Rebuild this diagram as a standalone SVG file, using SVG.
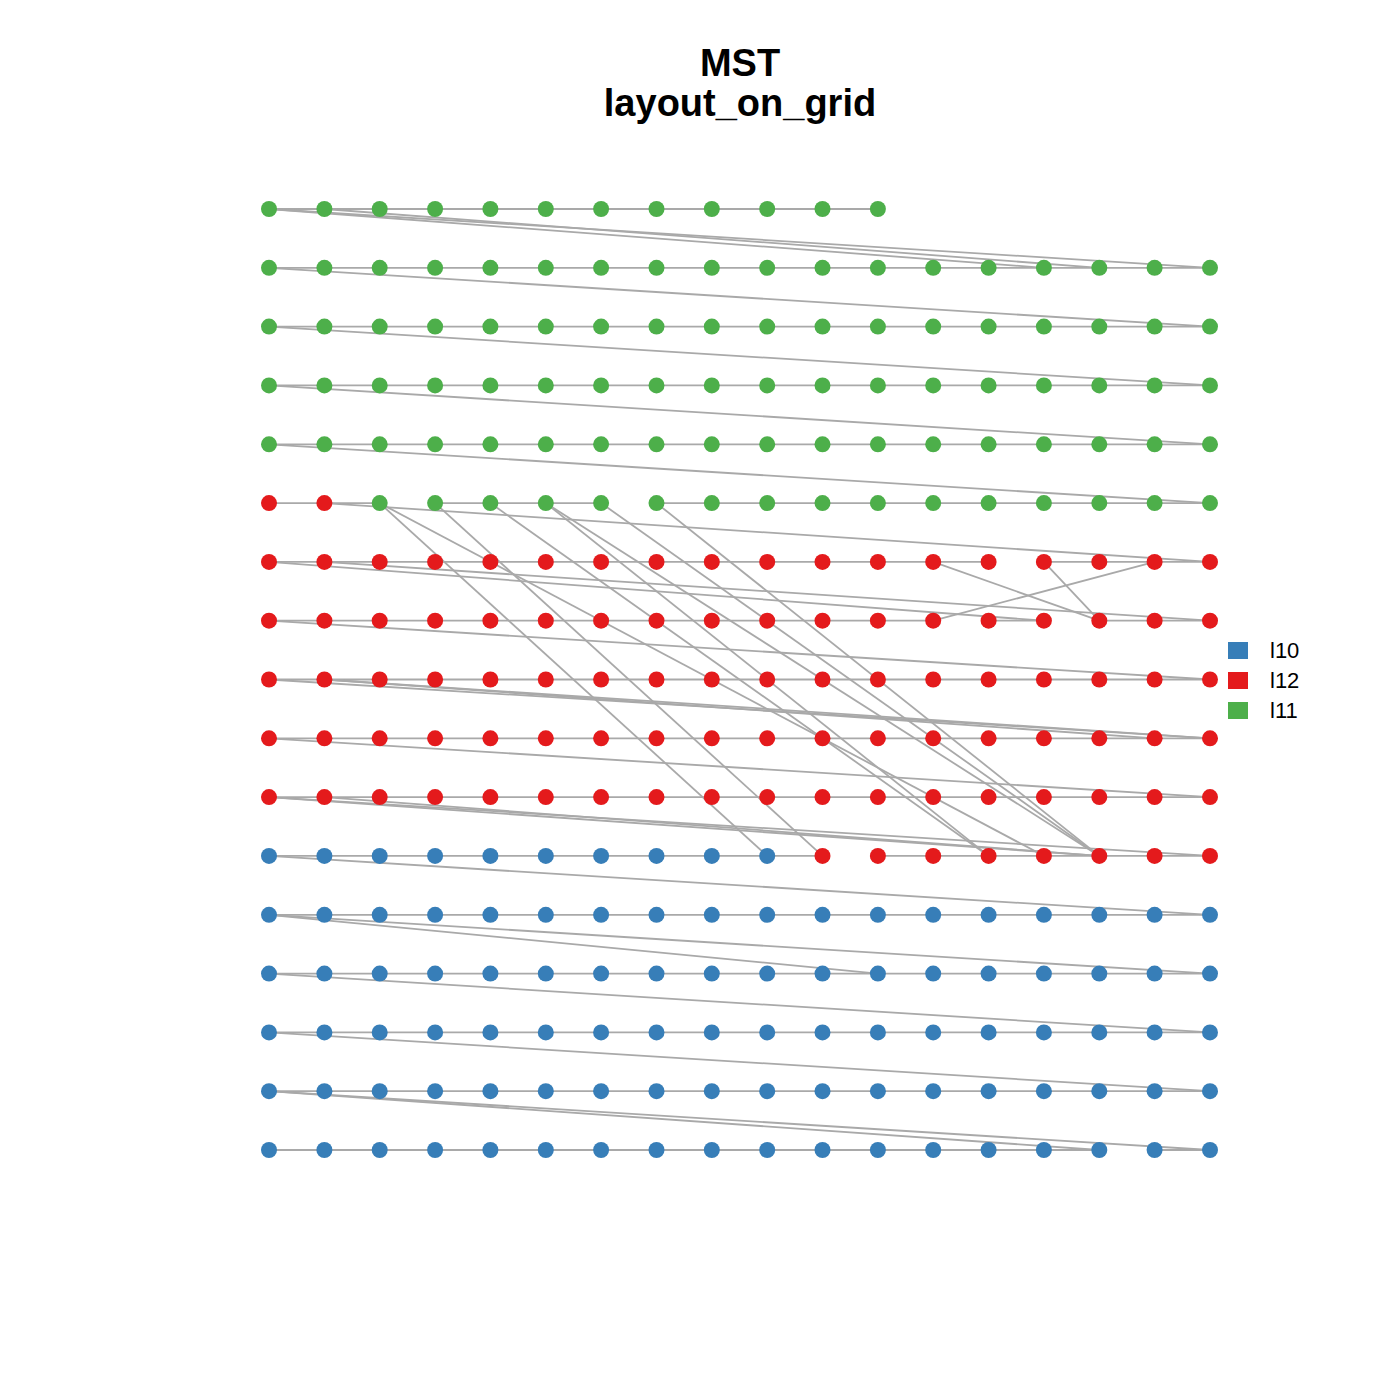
<svg xmlns="http://www.w3.org/2000/svg" width="1400" height="1400" viewBox="0 0 1400 1400">
<style>
.e{stroke:#a9a9a9;stroke-width:1.8;fill:none}
.g{fill:#4daf4a}.r{fill:#e41a1c}.b{fill:#377eb8}
.t{font-family:"Liberation Sans",Arial,sans-serif;font-weight:bold;font-size:38px;text-anchor:middle;fill:#000}
.l{font-family:"Liberation Sans",Arial,sans-serif;font-size:22px;fill:#000}
</style>
<rect width="1400" height="1400" fill="#fff"/>
<text class="t" x="740" y="76">MST</text>
<text class="t" x="740" y="116">layout_on_grid</text>
<g id="connectors" class="e">
<line x1="269" y1="209" x2="877.9" y2="209"/>
<line x1="269" y1="267.8" x2="1210" y2="267.8"/>
<line x1="269" y1="326.6" x2="1210" y2="326.6"/>
<line x1="269" y1="385.4" x2="1210" y2="385.4"/>
<line x1="269" y1="444.3" x2="1210" y2="444.3"/>
<line x1="269" y1="503.1" x2="379.7" y2="503.1"/>
<line x1="435.1" y1="503.1" x2="601.1" y2="503.1"/>
<line x1="656.5" y1="503.1" x2="1210" y2="503.1"/>
<line x1="269" y1="561.9" x2="988.6" y2="561.9"/>
<line x1="1043.9" y1="561.9" x2="1210" y2="561.9"/>
<line x1="269" y1="620.7" x2="933.2" y2="620.7"/>
<line x1="988.6" y1="620.7" x2="1043.9" y2="620.7"/>
<line x1="1099.3" y1="620.7" x2="1210" y2="620.7"/>
<line x1="269" y1="679.5" x2="1210" y2="679.5"/>
<line x1="269" y1="738.3" x2="1210" y2="738.3"/>
<line x1="269" y1="797.1" x2="1210" y2="797.1"/>
<line x1="269" y1="855.9" x2="822.5" y2="855.9"/>
<line x1="877.9" y1="855.9" x2="1210" y2="855.9"/>
<line x1="269" y1="914.8" x2="1210" y2="914.8"/>
<line x1="269" y1="973.6" x2="1210" y2="973.6"/>
<line x1="269" y1="1032.4" x2="1210" y2="1032.4"/>
<line x1="269" y1="1091.2" x2="1210" y2="1091.2"/>
<line x1="269" y1="1150" x2="1099.3" y2="1150"/>
<line x1="1154.6" y1="1150" x2="1210" y2="1150"/>
<line x1="269" y1="209" x2="1210" y2="267.8"/>
<line x1="324.4" y1="209" x2="1099.3" y2="267.8"/>
<line x1="269" y1="209" x2="1043.9" y2="267.8"/>
<line x1="269" y1="267.8" x2="1210" y2="326.6"/>
<line x1="269" y1="326.6" x2="1210" y2="385.4"/>
<line x1="269" y1="385.4" x2="1210" y2="444.3"/>
<line x1="269" y1="444.3" x2="1210" y2="503.1"/>
<line x1="324.4" y1="503.1" x2="1210" y2="561.9"/>
<line x1="324.4" y1="561.9" x2="1210" y2="620.7"/>
<line x1="269" y1="561.9" x2="1043.9" y2="620.7"/>
<line x1="269" y1="620.7" x2="1210" y2="679.5"/>
<line x1="269" y1="679.5" x2="1210" y2="738.3"/>
<line x1="324.4" y1="679.5" x2="1210" y2="738.3"/>
<line x1="324.4" y1="679.5" x2="1154.6" y2="738.3"/>
<line x1="269" y1="738.3" x2="1210" y2="797.1"/>
<line x1="269" y1="797.1" x2="1210" y2="855.9"/>
<line x1="269" y1="797.1" x2="1099.3" y2="855.9"/>
<line x1="324.4" y1="797.1" x2="1099.3" y2="855.9"/>
<line x1="269" y1="855.9" x2="1210" y2="914.8"/>
<line x1="269" y1="914.8" x2="1210" y2="973.6"/>
<line x1="269" y1="914.8" x2="877.9" y2="973.6"/>
<line x1="269" y1="973.6" x2="1210" y2="1032.4"/>
<line x1="269" y1="1032.4" x2="1210" y2="1091.2"/>
<line x1="269" y1="1091.2" x2="1210" y2="1150"/>
<line x1="269" y1="1091.2" x2="1099.3" y2="1150"/>
<line x1="379.7" y1="503.1" x2="767.2" y2="855.9"/>
<line x1="435.1" y1="503.1" x2="822.5" y2="855.9"/>
<line x1="379.7" y1="503.1" x2="1043.9" y2="855.9"/>
<line x1="490.4" y1="503.1" x2="988.6" y2="855.9"/>
<line x1="545.8" y1="503.1" x2="988.6" y2="855.9"/>
<line x1="545.8" y1="503.1" x2="1099.3" y2="855.9"/>
<line x1="601.1" y1="503.1" x2="1099.3" y2="855.9"/>
<line x1="656.5" y1="503.1" x2="1099.3" y2="855.9"/>
<line x1="933.2" y1="561.9" x2="1099.3" y2="620.7"/>
<line x1="1043.9" y1="561.9" x2="1099.3" y2="620.7"/>
<line x1="933.2" y1="620.7" x2="1154.6" y2="561.9"/>
</g>
<g id="nodes">
<g id="n289"><circle class="g" cx="269" cy="209" r="8"/></g>
<g id="n290"><circle class="g" cx="324.4" cy="209" r="8"/></g>
<g id="n291"><circle class="g" cx="379.7" cy="209" r="8"/></g>
<g id="n292"><circle class="g" cx="435.1" cy="209" r="8"/></g>
<g id="n293"><circle class="g" cx="490.4" cy="209" r="8"/></g>
<g id="n294"><circle class="g" cx="545.8" cy="209" r="8"/></g>
<g id="n295"><circle class="g" cx="601.1" cy="209" r="8"/></g>
<g id="n296"><circle class="g" cx="656.5" cy="209" r="8"/></g>
<g id="n297"><circle class="g" cx="711.8" cy="209" r="8"/></g>
<g id="n298"><circle class="g" cx="767.2" cy="209" r="8"/></g>
<g id="n299"><circle class="g" cx="822.5" cy="209" r="8"/></g>
<g id="n300"><circle class="g" cx="877.9" cy="209" r="8"/></g>
<g id="n271"><circle class="g" cx="269" cy="267.8" r="8"/></g>
<g id="n272"><circle class="g" cx="324.4" cy="267.8" r="8"/></g>
<g id="n273"><circle class="g" cx="379.7" cy="267.8" r="8"/></g>
<g id="n274"><circle class="g" cx="435.1" cy="267.8" r="8"/></g>
<g id="n275"><circle class="g" cx="490.4" cy="267.8" r="8"/></g>
<g id="n276"><circle class="g" cx="545.8" cy="267.8" r="8"/></g>
<g id="n277"><circle class="g" cx="601.1" cy="267.8" r="8"/></g>
<g id="n278"><circle class="g" cx="656.5" cy="267.8" r="8"/></g>
<g id="n279"><circle class="g" cx="711.8" cy="267.8" r="8"/></g>
<g id="n280"><circle class="g" cx="767.2" cy="267.8" r="8"/></g>
<g id="n281"><circle class="g" cx="822.5" cy="267.8" r="8"/></g>
<g id="n282"><circle class="g" cx="877.9" cy="267.8" r="8"/></g>
<g id="n283"><circle class="g" cx="933.2" cy="267.8" r="8"/></g>
<g id="n284"><circle class="g" cx="988.6" cy="267.8" r="8"/></g>
<g id="n285"><circle class="g" cx="1043.9" cy="267.8" r="8"/></g>
<g id="n286"><circle class="g" cx="1099.3" cy="267.8" r="8"/></g>
<g id="n287"><circle class="g" cx="1154.6" cy="267.8" r="8"/></g>
<g id="n288"><circle class="g" cx="1210" cy="267.8" r="8"/></g>
<g id="n253"><circle class="g" cx="269" cy="326.6" r="8"/></g>
<g id="n254"><circle class="g" cx="324.4" cy="326.6" r="8"/></g>
<g id="n255"><circle class="g" cx="379.7" cy="326.6" r="8"/></g>
<g id="n256"><circle class="g" cx="435.1" cy="326.6" r="8"/></g>
<g id="n257"><circle class="g" cx="490.4" cy="326.6" r="8"/></g>
<g id="n258"><circle class="g" cx="545.8" cy="326.6" r="8"/></g>
<g id="n259"><circle class="g" cx="601.1" cy="326.6" r="8"/></g>
<g id="n260"><circle class="g" cx="656.5" cy="326.6" r="8"/></g>
<g id="n261"><circle class="g" cx="711.8" cy="326.6" r="8"/></g>
<g id="n262"><circle class="g" cx="767.2" cy="326.6" r="8"/></g>
<g id="n263"><circle class="g" cx="822.5" cy="326.6" r="8"/></g>
<g id="n264"><circle class="g" cx="877.9" cy="326.6" r="8"/></g>
<g id="n265"><circle class="g" cx="933.2" cy="326.6" r="8"/></g>
<g id="n266"><circle class="g" cx="988.6" cy="326.6" r="8"/></g>
<g id="n267"><circle class="g" cx="1043.9" cy="326.6" r="8"/></g>
<g id="n268"><circle class="g" cx="1099.3" cy="326.6" r="8"/></g>
<g id="n269"><circle class="g" cx="1154.6" cy="326.6" r="8"/></g>
<g id="n270"><circle class="g" cx="1210" cy="326.6" r="8"/></g>
<g id="n235"><circle class="g" cx="269" cy="385.4" r="8"/></g>
<g id="n236"><circle class="g" cx="324.4" cy="385.4" r="8"/></g>
<g id="n237"><circle class="g" cx="379.7" cy="385.4" r="8"/></g>
<g id="n238"><circle class="g" cx="435.1" cy="385.4" r="8"/></g>
<g id="n239"><circle class="g" cx="490.4" cy="385.4" r="8"/></g>
<g id="n240"><circle class="g" cx="545.8" cy="385.4" r="8"/></g>
<g id="n241"><circle class="g" cx="601.1" cy="385.4" r="8"/></g>
<g id="n242"><circle class="g" cx="656.5" cy="385.4" r="8"/></g>
<g id="n243"><circle class="g" cx="711.8" cy="385.4" r="8"/></g>
<g id="n244"><circle class="g" cx="767.2" cy="385.4" r="8"/></g>
<g id="n245"><circle class="g" cx="822.5" cy="385.4" r="8"/></g>
<g id="n246"><circle class="g" cx="877.9" cy="385.4" r="8"/></g>
<g id="n247"><circle class="g" cx="933.2" cy="385.4" r="8"/></g>
<g id="n248"><circle class="g" cx="988.6" cy="385.4" r="8"/></g>
<g id="n249"><circle class="g" cx="1043.9" cy="385.4" r="8"/></g>
<g id="n250"><circle class="g" cx="1099.3" cy="385.4" r="8"/></g>
<g id="n251"><circle class="g" cx="1154.6" cy="385.4" r="8"/></g>
<g id="n252"><circle class="g" cx="1210" cy="385.4" r="8"/></g>
<g id="n217"><circle class="g" cx="269" cy="444.3" r="8"/></g>
<g id="n218"><circle class="g" cx="324.4" cy="444.3" r="8"/></g>
<g id="n219"><circle class="g" cx="379.7" cy="444.3" r="8"/></g>
<g id="n220"><circle class="g" cx="435.1" cy="444.3" r="8"/></g>
<g id="n221"><circle class="g" cx="490.4" cy="444.3" r="8"/></g>
<g id="n222"><circle class="g" cx="545.8" cy="444.3" r="8"/></g>
<g id="n223"><circle class="g" cx="601.1" cy="444.3" r="8"/></g>
<g id="n224"><circle class="g" cx="656.5" cy="444.3" r="8"/></g>
<g id="n225"><circle class="g" cx="711.8" cy="444.3" r="8"/></g>
<g id="n226"><circle class="g" cx="767.2" cy="444.3" r="8"/></g>
<g id="n227"><circle class="g" cx="822.5" cy="444.3" r="8"/></g>
<g id="n228"><circle class="g" cx="877.9" cy="444.3" r="8"/></g>
<g id="n229"><circle class="g" cx="933.2" cy="444.3" r="8"/></g>
<g id="n230"><circle class="g" cx="988.6" cy="444.3" r="8"/></g>
<g id="n231"><circle class="g" cx="1043.9" cy="444.3" r="8"/></g>
<g id="n232"><circle class="g" cx="1099.3" cy="444.3" r="8"/></g>
<g id="n233"><circle class="g" cx="1154.6" cy="444.3" r="8"/></g>
<g id="n234"><circle class="g" cx="1210" cy="444.3" r="8"/></g>
<g id="n199"><circle class="r" cx="269" cy="503.1" r="8"/></g>
<g id="n200"><circle class="r" cx="324.4" cy="503.1" r="8"/></g>
<g id="n201"><circle class="g" cx="379.7" cy="503.1" r="8"/></g>
<g id="n202"><circle class="g" cx="435.1" cy="503.1" r="8"/></g>
<g id="n203"><circle class="g" cx="490.4" cy="503.1" r="8"/></g>
<g id="n204"><circle class="g" cx="545.8" cy="503.1" r="8"/></g>
<g id="n205"><circle class="g" cx="601.1" cy="503.1" r="8"/></g>
<g id="n206"><circle class="g" cx="656.5" cy="503.1" r="8"/></g>
<g id="n207"><circle class="g" cx="711.8" cy="503.1" r="8"/></g>
<g id="n208"><circle class="g" cx="767.2" cy="503.1" r="8"/></g>
<g id="n209"><circle class="g" cx="822.5" cy="503.1" r="8"/></g>
<g id="n210"><circle class="g" cx="877.9" cy="503.1" r="8"/></g>
<g id="n211"><circle class="g" cx="933.2" cy="503.1" r="8"/></g>
<g id="n212"><circle class="g" cx="988.6" cy="503.1" r="8"/></g>
<g id="n213"><circle class="g" cx="1043.9" cy="503.1" r="8"/></g>
<g id="n214"><circle class="g" cx="1099.3" cy="503.1" r="8"/></g>
<g id="n215"><circle class="g" cx="1154.6" cy="503.1" r="8"/></g>
<g id="n216"><circle class="g" cx="1210" cy="503.1" r="8"/></g>
<g id="n181"><circle class="r" cx="269" cy="561.9" r="8"/></g>
<g id="n182"><circle class="r" cx="324.4" cy="561.9" r="8"/></g>
<g id="n183"><circle class="r" cx="379.7" cy="561.9" r="8"/></g>
<g id="n184"><circle class="r" cx="435.1" cy="561.9" r="8"/></g>
<g id="n185"><circle class="r" cx="490.4" cy="561.9" r="8"/></g>
<g id="n186"><circle class="r" cx="545.8" cy="561.9" r="8"/></g>
<g id="n187"><circle class="r" cx="601.1" cy="561.9" r="8"/></g>
<g id="n188"><circle class="r" cx="656.5" cy="561.9" r="8"/></g>
<g id="n189"><circle class="r" cx="711.8" cy="561.9" r="8"/></g>
<g id="n190"><circle class="r" cx="767.2" cy="561.9" r="8"/></g>
<g id="n191"><circle class="r" cx="822.5" cy="561.9" r="8"/></g>
<g id="n192"><circle class="r" cx="877.9" cy="561.9" r="8"/></g>
<g id="n193"><circle class="r" cx="933.2" cy="561.9" r="8"/></g>
<g id="n194"><circle class="r" cx="988.6" cy="561.9" r="8"/></g>
<g id="n195"><circle class="r" cx="1043.9" cy="561.9" r="8"/></g>
<g id="n196"><circle class="r" cx="1099.3" cy="561.9" r="8"/></g>
<g id="n197"><circle class="r" cx="1154.6" cy="561.9" r="8"/></g>
<g id="n198"><circle class="r" cx="1210" cy="561.9" r="8"/></g>
<g id="n163"><circle class="r" cx="269" cy="620.7" r="8"/></g>
<g id="n164"><circle class="r" cx="324.4" cy="620.7" r="8"/></g>
<g id="n165"><circle class="r" cx="379.7" cy="620.7" r="8"/></g>
<g id="n166"><circle class="r" cx="435.1" cy="620.7" r="8"/></g>
<g id="n167"><circle class="r" cx="490.4" cy="620.7" r="8"/></g>
<g id="n168"><circle class="r" cx="545.8" cy="620.7" r="8"/></g>
<g id="n169"><circle class="r" cx="601.1" cy="620.7" r="8"/></g>
<g id="n170"><circle class="r" cx="656.5" cy="620.7" r="8"/></g>
<g id="n171"><circle class="r" cx="711.8" cy="620.7" r="8"/></g>
<g id="n172"><circle class="r" cx="767.2" cy="620.7" r="8"/></g>
<g id="n173"><circle class="r" cx="822.5" cy="620.7" r="8"/></g>
<g id="n174"><circle class="r" cx="877.9" cy="620.7" r="8"/></g>
<g id="n175"><circle class="r" cx="933.2" cy="620.7" r="8"/></g>
<g id="n176"><circle class="r" cx="988.6" cy="620.7" r="8"/></g>
<g id="n177"><circle class="r" cx="1043.9" cy="620.7" r="8"/></g>
<g id="n178"><circle class="r" cx="1099.3" cy="620.7" r="8"/></g>
<g id="n179"><circle class="r" cx="1154.6" cy="620.7" r="8"/></g>
<g id="n180"><circle class="r" cx="1210" cy="620.7" r="8"/></g>
<g id="n145"><circle class="r" cx="269" cy="679.5" r="8"/></g>
<g id="n146"><circle class="r" cx="324.4" cy="679.5" r="8"/></g>
<g id="n147"><circle class="r" cx="379.7" cy="679.5" r="8"/></g>
<g id="n148"><circle class="r" cx="435.1" cy="679.5" r="8"/></g>
<g id="n149"><circle class="r" cx="490.4" cy="679.5" r="8"/></g>
<g id="n150"><circle class="r" cx="545.8" cy="679.5" r="8"/></g>
<g id="n151"><circle class="r" cx="601.1" cy="679.5" r="8"/></g>
<g id="n152"><circle class="r" cx="656.5" cy="679.5" r="8"/></g>
<g id="n153"><circle class="r" cx="711.8" cy="679.5" r="8"/></g>
<g id="n154"><circle class="r" cx="767.2" cy="679.5" r="8"/></g>
<g id="n155"><circle class="r" cx="822.5" cy="679.5" r="8"/></g>
<g id="n156"><circle class="r" cx="877.9" cy="679.5" r="8"/></g>
<g id="n157"><circle class="r" cx="933.2" cy="679.5" r="8"/></g>
<g id="n158"><circle class="r" cx="988.6" cy="679.5" r="8"/></g>
<g id="n159"><circle class="r" cx="1043.9" cy="679.5" r="8"/></g>
<g id="n160"><circle class="r" cx="1099.3" cy="679.5" r="8"/></g>
<g id="n161"><circle class="r" cx="1154.6" cy="679.5" r="8"/></g>
<g id="n162"><circle class="r" cx="1210" cy="679.5" r="8"/></g>
<g id="n127"><circle class="r" cx="269" cy="738.3" r="8"/></g>
<g id="n128"><circle class="r" cx="324.4" cy="738.3" r="8"/></g>
<g id="n129"><circle class="r" cx="379.7" cy="738.3" r="8"/></g>
<g id="n130"><circle class="r" cx="435.1" cy="738.3" r="8"/></g>
<g id="n131"><circle class="r" cx="490.4" cy="738.3" r="8"/></g>
<g id="n132"><circle class="r" cx="545.8" cy="738.3" r="8"/></g>
<g id="n133"><circle class="r" cx="601.1" cy="738.3" r="8"/></g>
<g id="n134"><circle class="r" cx="656.5" cy="738.3" r="8"/></g>
<g id="n135"><circle class="r" cx="711.8" cy="738.3" r="8"/></g>
<g id="n136"><circle class="r" cx="767.2" cy="738.3" r="8"/></g>
<g id="n137"><circle class="r" cx="822.5" cy="738.3" r="8"/></g>
<g id="n138"><circle class="r" cx="877.9" cy="738.3" r="8"/></g>
<g id="n139"><circle class="r" cx="933.2" cy="738.3" r="8"/></g>
<g id="n140"><circle class="r" cx="988.6" cy="738.3" r="8"/></g>
<g id="n141"><circle class="r" cx="1043.9" cy="738.3" r="8"/></g>
<g id="n142"><circle class="r" cx="1099.3" cy="738.3" r="8"/></g>
<g id="n143"><circle class="r" cx="1154.6" cy="738.3" r="8"/></g>
<g id="n144"><circle class="r" cx="1210" cy="738.3" r="8"/></g>
<g id="n109"><circle class="r" cx="269" cy="797.1" r="8"/></g>
<g id="n110"><circle class="r" cx="324.4" cy="797.1" r="8"/></g>
<g id="n111"><circle class="r" cx="379.7" cy="797.1" r="8"/></g>
<g id="n112"><circle class="r" cx="435.1" cy="797.1" r="8"/></g>
<g id="n113"><circle class="r" cx="490.4" cy="797.1" r="8"/></g>
<g id="n114"><circle class="r" cx="545.8" cy="797.1" r="8"/></g>
<g id="n115"><circle class="r" cx="601.1" cy="797.1" r="8"/></g>
<g id="n116"><circle class="r" cx="656.5" cy="797.1" r="8"/></g>
<g id="n117"><circle class="r" cx="711.8" cy="797.1" r="8"/></g>
<g id="n118"><circle class="r" cx="767.2" cy="797.1" r="8"/></g>
<g id="n119"><circle class="r" cx="822.5" cy="797.1" r="8"/></g>
<g id="n120"><circle class="r" cx="877.9" cy="797.1" r="8"/></g>
<g id="n121"><circle class="r" cx="933.2" cy="797.1" r="8"/></g>
<g id="n122"><circle class="r" cx="988.6" cy="797.1" r="8"/></g>
<g id="n123"><circle class="r" cx="1043.9" cy="797.1" r="8"/></g>
<g id="n124"><circle class="r" cx="1099.3" cy="797.1" r="8"/></g>
<g id="n125"><circle class="r" cx="1154.6" cy="797.1" r="8"/></g>
<g id="n126"><circle class="r" cx="1210" cy="797.1" r="8"/></g>
<g id="n91"><circle class="b" cx="269" cy="855.9" r="8"/></g>
<g id="n92"><circle class="b" cx="324.4" cy="855.9" r="8"/></g>
<g id="n93"><circle class="b" cx="379.7" cy="855.9" r="8"/></g>
<g id="n94"><circle class="b" cx="435.1" cy="855.9" r="8"/></g>
<g id="n95"><circle class="b" cx="490.4" cy="855.9" r="8"/></g>
<g id="n96"><circle class="b" cx="545.8" cy="855.9" r="8"/></g>
<g id="n97"><circle class="b" cx="601.1" cy="855.9" r="8"/></g>
<g id="n98"><circle class="b" cx="656.5" cy="855.9" r="8"/></g>
<g id="n99"><circle class="b" cx="711.8" cy="855.9" r="8"/></g>
<g id="n100"><circle class="b" cx="767.2" cy="855.9" r="8"/></g>
<g id="n101"><circle class="r" cx="822.5" cy="855.9" r="8"/></g>
<g id="n102"><circle class="r" cx="877.9" cy="855.9" r="8"/></g>
<g id="n103"><circle class="r" cx="933.2" cy="855.9" r="8"/></g>
<g id="n104"><circle class="r" cx="988.6" cy="855.9" r="8"/></g>
<g id="n105"><circle class="r" cx="1043.9" cy="855.9" r="8"/></g>
<g id="n106"><circle class="r" cx="1099.3" cy="855.9" r="8"/></g>
<g id="n107"><circle class="r" cx="1154.6" cy="855.9" r="8"/></g>
<g id="n108"><circle class="r" cx="1210" cy="855.9" r="8"/></g>
<g id="n73"><circle class="b" cx="269" cy="914.8" r="8"/></g>
<g id="n74"><circle class="b" cx="324.4" cy="914.8" r="8"/></g>
<g id="n75"><circle class="b" cx="379.7" cy="914.8" r="8"/></g>
<g id="n76"><circle class="b" cx="435.1" cy="914.8" r="8"/></g>
<g id="n77"><circle class="b" cx="490.4" cy="914.8" r="8"/></g>
<g id="n78"><circle class="b" cx="545.8" cy="914.8" r="8"/></g>
<g id="n79"><circle class="b" cx="601.1" cy="914.8" r="8"/></g>
<g id="n80"><circle class="b" cx="656.5" cy="914.8" r="8"/></g>
<g id="n81"><circle class="b" cx="711.8" cy="914.8" r="8"/></g>
<g id="n82"><circle class="b" cx="767.2" cy="914.8" r="8"/></g>
<g id="n83"><circle class="b" cx="822.5" cy="914.8" r="8"/></g>
<g id="n84"><circle class="b" cx="877.9" cy="914.8" r="8"/></g>
<g id="n85"><circle class="b" cx="933.2" cy="914.8" r="8"/></g>
<g id="n86"><circle class="b" cx="988.6" cy="914.8" r="8"/></g>
<g id="n87"><circle class="b" cx="1043.9" cy="914.8" r="8"/></g>
<g id="n88"><circle class="b" cx="1099.3" cy="914.8" r="8"/></g>
<g id="n89"><circle class="b" cx="1154.6" cy="914.8" r="8"/></g>
<g id="n90"><circle class="b" cx="1210" cy="914.8" r="8"/></g>
<g id="n55"><circle class="b" cx="269" cy="973.6" r="8"/></g>
<g id="n56"><circle class="b" cx="324.4" cy="973.6" r="8"/></g>
<g id="n57"><circle class="b" cx="379.7" cy="973.6" r="8"/></g>
<g id="n58"><circle class="b" cx="435.1" cy="973.6" r="8"/></g>
<g id="n59"><circle class="b" cx="490.4" cy="973.6" r="8"/></g>
<g id="n60"><circle class="b" cx="545.8" cy="973.6" r="8"/></g>
<g id="n61"><circle class="b" cx="601.1" cy="973.6" r="8"/></g>
<g id="n62"><circle class="b" cx="656.5" cy="973.6" r="8"/></g>
<g id="n63"><circle class="b" cx="711.8" cy="973.6" r="8"/></g>
<g id="n64"><circle class="b" cx="767.2" cy="973.6" r="8"/></g>
<g id="n65"><circle class="b" cx="822.5" cy="973.6" r="8"/></g>
<g id="n66"><circle class="b" cx="877.9" cy="973.6" r="8"/></g>
<g id="n67"><circle class="b" cx="933.2" cy="973.6" r="8"/></g>
<g id="n68"><circle class="b" cx="988.6" cy="973.6" r="8"/></g>
<g id="n69"><circle class="b" cx="1043.9" cy="973.6" r="8"/></g>
<g id="n70"><circle class="b" cx="1099.3" cy="973.6" r="8"/></g>
<g id="n71"><circle class="b" cx="1154.6" cy="973.6" r="8"/></g>
<g id="n72"><circle class="b" cx="1210" cy="973.6" r="8"/></g>
<g id="n37"><circle class="b" cx="269" cy="1032.4" r="8"/></g>
<g id="n38"><circle class="b" cx="324.4" cy="1032.4" r="8"/></g>
<g id="n39"><circle class="b" cx="379.7" cy="1032.4" r="8"/></g>
<g id="n40"><circle class="b" cx="435.1" cy="1032.4" r="8"/></g>
<g id="n41"><circle class="b" cx="490.4" cy="1032.4" r="8"/></g>
<g id="n42"><circle class="b" cx="545.8" cy="1032.4" r="8"/></g>
<g id="n43"><circle class="b" cx="601.1" cy="1032.4" r="8"/></g>
<g id="n44"><circle class="b" cx="656.5" cy="1032.4" r="8"/></g>
<g id="n45"><circle class="b" cx="711.8" cy="1032.4" r="8"/></g>
<g id="n46"><circle class="b" cx="767.2" cy="1032.4" r="8"/></g>
<g id="n47"><circle class="b" cx="822.5" cy="1032.4" r="8"/></g>
<g id="n48"><circle class="b" cx="877.9" cy="1032.4" r="8"/></g>
<g id="n49"><circle class="b" cx="933.2" cy="1032.4" r="8"/></g>
<g id="n50"><circle class="b" cx="988.6" cy="1032.4" r="8"/></g>
<g id="n51"><circle class="b" cx="1043.9" cy="1032.4" r="8"/></g>
<g id="n52"><circle class="b" cx="1099.3" cy="1032.4" r="8"/></g>
<g id="n53"><circle class="b" cx="1154.6" cy="1032.4" r="8"/></g>
<g id="n54"><circle class="b" cx="1210" cy="1032.4" r="8"/></g>
<g id="n19"><circle class="b" cx="269" cy="1091.2" r="8"/></g>
<g id="n20"><circle class="b" cx="324.4" cy="1091.2" r="8"/></g>
<g id="n21"><circle class="b" cx="379.7" cy="1091.2" r="8"/></g>
<g id="n22"><circle class="b" cx="435.1" cy="1091.2" r="8"/></g>
<g id="n23"><circle class="b" cx="490.4" cy="1091.2" r="8"/></g>
<g id="n24"><circle class="b" cx="545.8" cy="1091.2" r="8"/></g>
<g id="n25"><circle class="b" cx="601.1" cy="1091.2" r="8"/></g>
<g id="n26"><circle class="b" cx="656.5" cy="1091.2" r="8"/></g>
<g id="n27"><circle class="b" cx="711.8" cy="1091.2" r="8"/></g>
<g id="n28"><circle class="b" cx="767.2" cy="1091.2" r="8"/></g>
<g id="n29"><circle class="b" cx="822.5" cy="1091.2" r="8"/></g>
<g id="n30"><circle class="b" cx="877.9" cy="1091.2" r="8"/></g>
<g id="n31"><circle class="b" cx="933.2" cy="1091.2" r="8"/></g>
<g id="n32"><circle class="b" cx="988.6" cy="1091.2" r="8"/></g>
<g id="n33"><circle class="b" cx="1043.9" cy="1091.2" r="8"/></g>
<g id="n34"><circle class="b" cx="1099.3" cy="1091.2" r="8"/></g>
<g id="n35"><circle class="b" cx="1154.6" cy="1091.2" r="8"/></g>
<g id="n36"><circle class="b" cx="1210" cy="1091.2" r="8"/></g>
<g id="n1"><circle class="b" cx="269" cy="1150" r="8"/></g>
<g id="n2"><circle class="b" cx="324.4" cy="1150" r="8"/></g>
<g id="n3"><circle class="b" cx="379.7" cy="1150" r="8"/></g>
<g id="n4"><circle class="b" cx="435.1" cy="1150" r="8"/></g>
<g id="n5"><circle class="b" cx="490.4" cy="1150" r="8"/></g>
<g id="n6"><circle class="b" cx="545.8" cy="1150" r="8"/></g>
<g id="n7"><circle class="b" cx="601.1" cy="1150" r="8"/></g>
<g id="n8"><circle class="b" cx="656.5" cy="1150" r="8"/></g>
<g id="n9"><circle class="b" cx="711.8" cy="1150" r="8"/></g>
<g id="n10"><circle class="b" cx="767.2" cy="1150" r="8"/></g>
<g id="n11"><circle class="b" cx="822.5" cy="1150" r="8"/></g>
<g id="n12"><circle class="b" cx="877.9" cy="1150" r="8"/></g>
<g id="n13"><circle class="b" cx="933.2" cy="1150" r="8"/></g>
<g id="n14"><circle class="b" cx="988.6" cy="1150" r="8"/></g>
<g id="n15"><circle class="b" cx="1043.9" cy="1150" r="8"/></g>
<g id="n16"><circle class="b" cx="1099.3" cy="1150" r="8"/></g>
<g id="n17"><circle class="b" cx="1154.6" cy="1150" r="8"/></g>
<g id="n18"><circle class="b" cx="1210" cy="1150" r="8"/></g>
</g>
<g id="legend">
<rect class="b" x="1228" y="642" width="20" height="17"/>
<text class="l" x="1270" y="658">l10</text>
<rect class="r" x="1228" y="672" width="20" height="17"/>
<text class="l" x="1270" y="688">l12</text>
<rect class="g" x="1228" y="702" width="20" height="17"/>
<text class="l" x="1270" y="718">l11</text>
</g>
</svg>
